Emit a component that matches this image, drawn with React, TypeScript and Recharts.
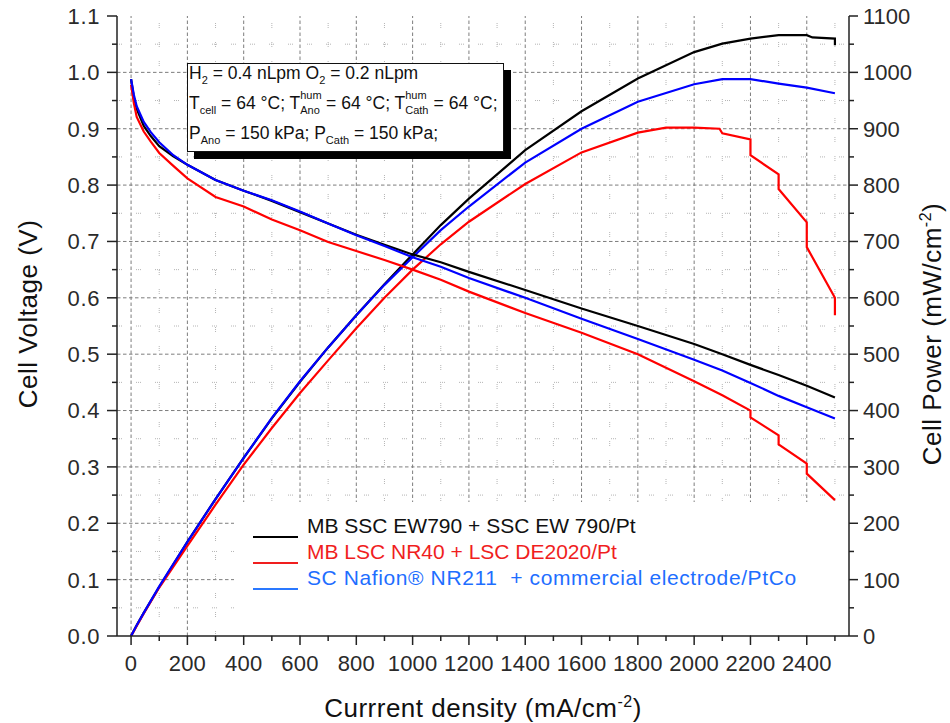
import React from 'react';
import { LineChart, Line, XAxis, YAxis, ReferenceLine, Label } from 'recharts';

// ---- Polarization curves (cell voltage, V) ----
const blackCurrentV = [0, 10, 20, 45, 70, 100, 150, 200, 300, 400, 500, 600, 700, 800, 900, 1000, 1100, 1200, 1400, 1600, 1800, 2000, 2100, 2200, 2300, 2400, 2500];
const blackVoltage = [0.988, 0.955, 0.935, 0.905, 0.887, 0.869, 0.851, 0.836, 0.809, 0.79, 0.772, 0.752, 0.732, 0.712, 0.694, 0.677, 0.663, 0.646, 0.614, 0.581, 0.55, 0.518, 0.5, 0.481, 0.463, 0.444, 0.423];

const blueCurrentV = [0, 10, 20, 45, 70, 100, 150, 200, 300, 400, 500, 600, 700, 800, 900, 1000, 1100, 1200, 1400, 1600, 1800, 2000, 2100, 2200, 2300, 2400, 2500];
const blueVoltage = [0.988, 0.96, 0.94, 0.912, 0.894, 0.876, 0.853, 0.836, 0.809, 0.79, 0.773, 0.753, 0.732, 0.711, 0.692, 0.672, 0.655, 0.635, 0.6, 0.563, 0.527, 0.49, 0.471, 0.449, 0.426, 0.406, 0.386];

const redCurrentV = [0, 10, 20, 45, 70, 100, 150, 200, 300, 400, 500, 600, 700, 800, 900, 1000, 1100, 1200, 1400, 1600, 1800, 2000, 2100, 2200, 2200, 2300, 2300, 2400, 2400, 2500];
const redVoltage = [0.978, 0.945, 0.921, 0.895, 0.877, 0.857, 0.834, 0.812, 0.779, 0.762, 0.739, 0.72, 0.699, 0.683, 0.667, 0.65, 0.632, 0.611, 0.573, 0.538, 0.5, 0.452, 0.427, 0.4, 0.388, 0.356, 0.34, 0.306, 0.288, 0.241];

// ---- Power density curves (mW/cm²) ----
const blackCurrentP = [0, 20, 45, 100, 200, 300, 400, 500, 600, 700, 800, 900, 1000, 1100, 1200, 1400, 1600, 1800, 2000, 2100, 2200, 2300, 2400, 2420, 2500, 2500];
const blackPower = [0, 19, 41, 87, 167, 243, 316, 386, 451, 512, 569, 624, 677, 729, 776, 862, 931, 989, 1036, 1051, 1060, 1066, 1066, 1062, 1060, 1048];

const blueCurrentP = [0, 20, 45, 100, 200, 300, 400, 500, 600, 700, 800, 900, 1000, 1100, 1200, 1400, 1600, 1800, 2000, 2100, 2200, 2300, 2400, 2500];
const bluePower = [0, 19, 41, 88, 167, 243, 316, 387, 452, 512, 569, 623, 672, 720, 762, 840, 900, 948, 979, 988, 988, 980, 973, 963];

const redCurrentP = [0, 20, 45, 100, 200, 300, 400, 500, 600, 700, 800, 900, 1000, 1100, 1200, 1400, 1600, 1800, 1900, 2000, 2090, 2100, 2200, 2200, 2300, 2300, 2400, 2400, 2500, 2500];
const redPower = [0, 18, 40, 86, 160, 233, 304, 369, 431, 489, 546, 600, 650, 695, 735, 802, 858, 893, 902, 902, 900, 892, 881, 853, 819, 793, 734, 690, 600, 569];

// ---- Axis ticks ----
const currentTicks = [0, 100, 200, 300, 400, 500, 600, 700, 800, 900, 1000, 1100, 1200, 1300, 1400, 1500, 1600, 1700, 1800, 1900, 2000, 2100, 2200, 2300, 2400, 2500];
const currentMajor = [0, 200, 400, 600, 800, 1000, 1200, 1400, 1600, 1800, 2000, 2200, 2400];
const currentMinor = [100, 300, 500, 700, 900, 1100, 1300, 1500, 1700, 1900, 2100, 2300, 2500];
const voltageTicks = [0, 0.05, 0.1, 0.15, 0.2, 0.25, 0.3, 0.35, 0.4, 0.45, 0.5, 0.55, 0.6, 0.65, 0.7, 0.75, 0.8, 0.85, 0.9, 0.95, 1.0, 1.05, 1.1];
const voltageMajor = [0.1, 0.2, 0.3, 0.4, 0.5, 0.6, 0.7, 0.8, 0.9, 1.0];
const voltageMinor = [0.05, 0.15, 0.25, 0.35, 0.45, 0.55, 0.65, 0.75, 0.85, 0.95, 1.05];
const powerTicks = [0, 50, 100, 150, 200, 250, 300, 350, 400, 450, 500, 550, 600, 650, 700, 750, 800, 850, 900, 950, 1000, 1050, 1100];

const legendItems = [
  { name: 'MB SSC EW790 + SSC EW 790/Pt', color: '#111111', line: '#000000', spacing: 0 },
  { name: 'MB LSC NR40 + LSC DE2020/Pt', color: '#f01e1e', line: '#f01e1e', spacing: 0 },
  { name: 'SC Nafion® NR211  + commercial electrode/PtCo', color: '#1e6eff', line: '#2a78ff', spacing: 0.6 },
];

const toPoints = (xs: number[], ys: number[]) => xs.map((i, k) => ({ i, y: ys[k] }));

const FONT = '"Liberation Sans", Arial, Helvetica, sans-serif';
const AXIS = '#222222';
const TICK_TEXT = '#2a2a2a';
const TICK_FONT = 22;
const TITLE_FONT = 26;

const isMajorCurrent = (v: number) => Math.round(v) % 200 === 0;
const isMajorVoltage = (v: number) => Math.round(v * 100) % 10 === 0;
const isMajorPower = (v: number) => Math.round(v) % 100 === 0;

const BottomTick = (props: any) => {
  const { x, y, payload } = props;
  const v = payload.value;
  const major = isMajorCurrent(v);
  return (
    <g>
      <line x1={x} x2={x} y1={y} y2={y + (major ? 9 : 5)} stroke={AXIS} strokeWidth={1.5} />
      {major && (
        <text x={x} y={y + 35} textAnchor="middle" fontSize={TICK_FONT} letterSpacing={0.2} fill={TICK_TEXT} fontFamily={FONT}>
          {v}
        </text>
      )}
    </g>
  );
};

const TopTick = (props: any) => {
  const { x, y, payload } = props;
  const major = isMajorCurrent(payload.value);
  return <line x1={x} x2={x} y1={y} y2={y + (major ? 9 : 5)} stroke={AXIS} strokeWidth={1.5} />;
};

const LeftTick = (props: any) => {
  const { x, y, payload } = props;
  const v = payload.value;
  const major = isMajorVoltage(v);
  return (
    <g>
      <line x1={x - (major ? 10 : 5)} x2={x} y1={y} y2={y} stroke={AXIS} strokeWidth={1.5} />
      {major && (
        <text x={x - 17} y={y} dy="0.36em" textAnchor="end" fontSize={TICK_FONT} letterSpacing={0.6} fill={TICK_TEXT} fontFamily={FONT}>
          {v.toFixed(1)}
        </text>
      )}
    </g>
  );
};

const RightTick = (props: any) => {
  const { x, y, payload } = props;
  const v = payload.value;
  const major = isMajorPower(v);
  return (
    <g>
      <line x1={x} x2={x + (major ? 9 : 5)} y1={y} y2={y} stroke={AXIS} strokeWidth={1.5} />
      {major && (
        <text x={x + 14} y={y} dy="0.36em" textAnchor="start" fontSize={TICK_FONT} fill={TICK_TEXT} fontFamily={FONT}>
          {v}
        </text>
      )}
    </g>
  );
};

const VoltageTitle = ({ viewBox }: any) => {
  const vb = viewBox || { x: 0, y: 16, width: 117, height: 620 };
  const cx = vb.x + 28;
  const cy = vb.y + vb.height / 2 - 12;
  return (
    <text x={cx} y={cy} transform={`rotate(-90 ${cx} ${cy})`} textAnchor="middle" dy="0.35em" fontSize={TITLE_FONT} letterSpacing={0.5} fill="#111" fontFamily={FONT}>
      Cell Voltage (V)
    </text>
  );
};

const PowerTitle = ({ viewBox }: any) => {
  const vb = viewBox || { x: 849, y: 16, width: 101, height: 620 };
  const cx = vb.x + 83;
  const cy = vb.y + vb.height / 2 + 8;
  return (
    <text x={cx} y={cy} transform={`rotate(-90 ${cx} ${cy})`} textAnchor="middle" dy="0.35em" fontSize={TITLE_FONT} letterSpacing={0.5} fill="#111" fontFamily={FONT}>
      Cell Power (mW/cm<tspan dy={-10} fontSize={16}>-2</tspan><tspan dy={10}>)</tspan>
    </text>
  );
};

const CurrentTitle = ({ viewBox }: any) => {
  const vb = viewBox || { x: 117, y: 636, width: 732, height: 87 };
  const cx = vb.x + vb.width / 2;
  return (
    <text x={cx} y={vb.y + 81} textAnchor="middle" fontSize={TITLE_FONT} letterSpacing={0.5} fill="#111" fontFamily={FONT}>
      Currrent density (mA/cm<tspan dy={-10} fontSize={16}>-2</tspan><tspan dy={10}>)</tspan>
    </text>
  );
};

const sub = (t: string) => (
  <span style={{ fontSize: 11, position: 'relative', top: 4.5 }}>{t}</span>
);
const supSub = (sup: string, low: string, w: number) => (
  <span style={{ display: 'inline-block', position: 'relative', width: w, height: 0 }}>
    <span style={{ position: 'absolute', left: 0, top: -19.8, fontSize: 11, lineHeight: '11px' }}>{sup}</span>
    <span style={{ position: 'absolute', left: 0, top: -4.8, fontSize: 11, lineHeight: '11px' }}>{low}</span>
  </span>
);

const lineStyle = (top: number): React.CSSProperties => ({
  position: 'absolute',
  left: 1,
  top,
  fontSize: 17.5,
  lineHeight: '18px',
  whiteSpace: 'pre',
  color: '#111',
});

export default function App() {
  const gridMajor = { stroke: '#7d7d7d', strokeWidth: 1, strokeDasharray: '3.5 2.5' };
  const gridMinor = { stroke: '#b4b4b4', strokeWidth: 1, strokeDasharray: '1 1 1 1 1 14' };

  return (
    <div style={{ position: 'absolute', left: 0, top: 0, width: 950, height: 723, background: '#fff', fontFamily: FONT }}>
      <LineChart width={950} height={723} margin={{ top: 16, right: 0, bottom: 0, left: 0 }}>
        <XAxis
          xAxisId="x"
          dataKey="i"
          type="number"
          domain={[-50, 2550]}
          allowDataOverflow
          ticks={currentTicks}
          interval={0}
          height={87}
          tickSize={0}
          tickMargin={0}
          tickLine={false}
          tick={<BottomTick />}
          axisLine={{ stroke: AXIS, strokeWidth: 1.5 }}
        >
          <Label content={<CurrentTitle />} />
        </XAxis>
        <XAxis
          xAxisId="top"
          orientation="top"
          type="number"
          domain={[-50, 2550]}
          allowDataOverflow
          ticks={currentTicks}
          interval={0}
          height={0}
          tickSize={0}
          tickMargin={0}
          tickLine={false}
          tick={<TopTick />}
          axisLine={{ stroke: AXIS, strokeWidth: 1.5 }}
        />
        <YAxis
          yAxisId="v"
          orientation="left"
          type="number"
          domain={[0, 1.1]}
          allowDataOverflow
          ticks={voltageTicks}
          interval={0}
          width={117}
          tickSize={0}
          tickMargin={0}
          tickLine={false}
          tick={<LeftTick />}
          axisLine={{ stroke: AXIS, strokeWidth: 1.5 }}
        >
          <Label content={<VoltageTitle />} />
        </YAxis>
        <YAxis
          yAxisId="p"
          orientation="right"
          type="number"
          domain={[0, 1100]}
          allowDataOverflow
          ticks={powerTicks}
          interval={0}
          width={101}
          tickSize={0}
          tickMargin={0}
          tickLine={false}
          tick={<RightTick />}
          axisLine={{ stroke: AXIS, strokeWidth: 1.5 }}
        >
          <Label content={<PowerTitle />} />
        </YAxis>

        {currentMinor.map((v) => (
          <ReferenceLine key={`xm${v}`} xAxisId="x" yAxisId="v" x={v} {...gridMinor} />
        ))}
        {voltageMinor.map((v) => (
          <ReferenceLine key={`ym${v}`} xAxisId="x" yAxisId="v" y={v} {...gridMinor} />
        ))}
        {currentMajor.map((v) => (
          <ReferenceLine key={`xM${v}`} xAxisId="x" yAxisId="v" x={v} {...gridMajor} />
        ))}
        {voltageMajor.map((v) => (
          <ReferenceLine key={`yM${v}`} xAxisId="x" yAxisId="v" y={v} {...gridMajor} />
        ))}

        <Line data={toPoints(blackCurrentP, blackPower)} xAxisId="x" yAxisId="p" dataKey="y" type="linear" stroke="#000000" strokeWidth={2.2} dot={false} isAnimationActive={false} />
        <Line data={toPoints(redCurrentP, redPower)} xAxisId="x" yAxisId="p" dataKey="y" type="linear" stroke="#ff0000" strokeWidth={2.2} dot={false} isAnimationActive={false} />
        <Line data={toPoints(blueCurrentP, bluePower)} xAxisId="x" yAxisId="p" dataKey="y" type="linear" stroke="#0000ff" strokeWidth={2.2} dot={false} isAnimationActive={false} />
        <Line data={toPoints(blackCurrentV, blackVoltage)} xAxisId="x" yAxisId="v" dataKey="y" type="linear" stroke="#000000" strokeWidth={2.2} dot={false} isAnimationActive={false} />
        <Line data={toPoints(redCurrentV, redVoltage)} xAxisId="x" yAxisId="v" dataKey="y" type="linear" stroke="#ff0000" strokeWidth={2.2} dot={false} isAnimationActive={false} />
        <Line data={toPoints(blueCurrentV, blueVoltage)} xAxisId="x" yAxisId="v" dataKey="y" type="linear" stroke="#0000ff" strokeWidth={2.2} dot={false} isAnimationActive={false} />
      </LineChart>

      {/* operating conditions box */}
      <div
        style={{
          position: 'absolute',
          left: 187,
          top: 63,
          width: 317,
          height: 89,
          boxSizing: 'border-box',
          border: '1.5px solid #111',
          background: '#fff',
          boxShadow: '7px 7px 0 #000',
        }}
      >
        <div style={lineStyle(0.4)}>
          H{sub('2')} = 0.4 nLpm O{sub('2')} = 0.2 nLpm
        </div>
        <div style={lineStyle(30.4)}>
          T{sub('cell')} = 64 °C; T{supSub('hum', 'Ano', 21)} = 64 °C; T{supSub('hum', 'Cath', 23.5)} = 64 °C;
        </div>
        <div style={lineStyle(60.4)}>
          P{sub('Ano')} = 150 kPa; P{sub('Cath')} = 150 kPa;
        </div>
      </div>

      {/* legend */}
      <div style={{ position: 'absolute', left: 234, top: 502, width: 614, height: 133, background: '#fff' }}>
        {legendItems.map((it, k) => (
          <React.Fragment key={it.name}>
            <div style={{ position: 'absolute', left: 19, top: 34 + k * 26, width: 45, height: 2, background: it.line }} />
            <div
              style={{
                position: 'absolute',
                left: 73,
                top: 12.5 + k * 26,
                fontSize: 21,
                lineHeight: '21px',
                letterSpacing: it.spacing,
                whiteSpace: 'pre',
                color: it.color,
              }}
            >
              {it.name}
            </div>
          </React.Fragment>
        ))}
      </div>
    </div>
  );
}
